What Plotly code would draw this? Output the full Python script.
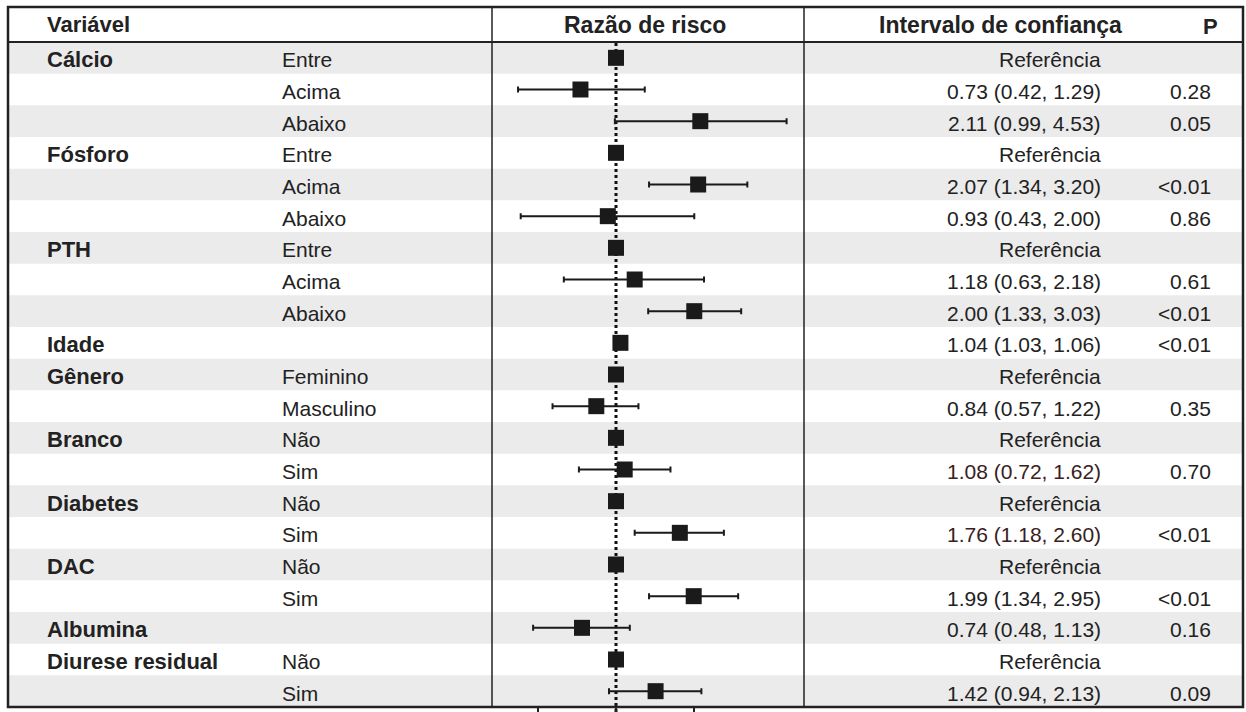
import plotly.graph_objects as go

# ---- data -------------------------------------------------------------
variables = ["Cálcio", "", "", "Fósforo", "", "", "PTH", "", "", "Idade",
             "Gênero", "", "Branco", "", "Diabetes", "", "DAC", "",
             "Albumina", "Diurese residual", ""]
levels = ["Entre", "Acima", "Abaixo", "Entre", "Acima", "Abaixo", "Entre",
          "Acima", "Abaixo", "", "Feminino", "Masculino", "Não", "Sim",
          "Não", "Sim", "Não", "Sim", "", "Não", "Sim"]
hazard_ratio = [1, 0.73, 2.11, 1, 2.07, 0.93, 1, 1.18, 2.00, 1.04, 1, 0.84,
                1, 1.08, 1, 1.76, 1, 1.99, 0.74, 1, 1.42]
ci_lower = [None, 0.42, 0.99, None, 1.34, 0.43, None, 0.63, 1.33, 1.03, None,
            0.57, None, 0.72, None, 1.18, None, 1.34, 0.48, None, 0.94]
ci_upper = [None, 1.29, 4.53, None, 3.20, 2.00, None, 2.18, 3.03, 1.06, None,
            1.22, None, 1.62, None, 2.60, None, 2.95, 1.13, None, 2.13]
p_values = ["", "0.28", "0.05", "", "<0.01", "0.86", "", "0.61", "<0.01",
            "<0.01", "", "0.35", "", "0.70", "", "<0.01", "", "<0.01", "0.16",
            "", "0.09"]
ci_text_colors = ["#222222"] * 13 + ["#3a2020", "#222222", "#3a2020"] + ["#222222"] * 5
headers = ["Variável", "Razão de risco", "Intervalo de confiança", "P"]
x_ticks = [0.5, 1, 2]

# ---- geometry (pixels) -----------------------------------------------
W, H = 1246, 712
FRAME_L, FRAME_R, FRAME_T, FRAME_B = 8, 1243, 7, 707
HEADER_B = 42
PLOT_L, PLOT_R = 492, 804
X_ONE = 616          # pixel of HR = 1
PX_PER_DECADE = 260


def px(x):
    return x / W


def py(y):
    return 1 - y / H


n = len(levels)
rows = list(range(1, n + 1))
TEXT = "#222222"
FONT = "Liberation Sans, Arial, sans-serif"

fig = go.Figure()

err_plus = [0 if u is None else u - h for u, h in zip(ci_upper, hazard_ratio)]
err_minus = [0 if l is None else h - l for l, h in zip(ci_lower, hazard_ratio)]

fig.add_trace(go.Scatter(
    x=hazard_ratio, y=rows, mode="markers",
    marker=dict(symbol="square", size=16, color="#1a1a1a",
                line=dict(width=0)),
    error_x=dict(type="data", symmetric=False, array=err_plus,
                 arrayminus=err_minus, color="#1a1a1a", thickness=2,
                 width=3),
    showlegend=False, hoverinfo="skip",
))

shapes = []
# alternating row bands
for r in rows:
    if r % 2 == 1:
        shapes.append(dict(type="rect", xref="paper", yref="y",
                           x0=px(FRAME_L), x1=px(FRAME_R),
                           y0=r - 0.5, y1=r + 0.5,
                           fillcolor="#ebebeb", line=dict(width=0),
                           layer="below"))
# null-effect dotted line
shapes.append(dict(type="line", xref="x", yref="paper", x0=1, x1=1,
                   y0=0, y1=py(HEADER_B),
                   line=dict(color="#111111", width=3, dash="dot"),
                   layer="below"))
# frame and column separators
shapes.append(dict(type="rect", xref="paper", yref="paper",
                   x0=px(FRAME_L), x1=px(FRAME_R),
                   y0=py(FRAME_B), y1=py(FRAME_T),
                   line=dict(color="#222222", width=2.5)))
shapes.append(dict(type="line", xref="paper", yref="paper",
                   x0=px(FRAME_L), x1=px(FRAME_R),
                   y0=py(HEADER_B), y1=py(HEADER_B),
                   line=dict(color="#222222", width=2)))
for xv in (PLOT_L, PLOT_R):
    shapes.append(dict(type="line", xref="paper", yref="paper",
                       x0=px(xv), x1=px(xv),
                       y0=py(FRAME_B), y1=py(FRAME_T),
                       line=dict(color="#222222", width=1.5)))

annotations = []


def add_text(text, x, y, anchor, size=21, bold=False, yref="y",
             color=TEXT, shift=-2):
    annotations.append(dict(
        text=f"<b>{text}</b>" if bold else text,
        xref="paper", yref=yref, x=px(x), y=y, yshift=shift,
        xanchor=anchor, yanchor="middle", showarrow=False,
        font=dict(family=FONT, size=size, color=color)))


header_y = py((FRAME_T + HEADER_B) / 2)
add_text(headers[0], 45, header_y, "left", size=22, bold=True, yref="paper", shift=0)
add_text(headers[1], 645, header_y, "center", size=23, bold=True, yref="paper", shift=0)
add_text(headers[2], 1000, header_y, "center", size=23, bold=True, yref="paper", shift=0)
add_text(headers[3], 1210, header_y, "center", size=22, bold=True, yref="paper", shift=-2)

for r, var, lev, h, lo, hi, p, col in zip(rows, variables, levels,
                                          hazard_ratio, ci_lower, ci_upper,
                                          p_values, ci_text_colors):
    if var:
        add_text(var, 45, r, "left", size=22, bold=True)
    if lev:
        add_text(lev, 280, r, "left")
    if lo is None:
        ci_text = "Referência"
    else:
        ci_text = f"{h:.2f} ({lo:.2f}, {hi:.2f})"
    add_text(ci_text, 1103, r, "right", color=col)
    if p:
        add_text(p, 1213, r, "right")

x_lo = (PLOT_L - X_ONE) / PX_PER_DECADE
x_hi = (PLOT_R - X_ONE) / PX_PER_DECADE

fig.update_layout(
    width=W, height=H,
    margin=dict(l=0, r=0, t=0, b=0),
    paper_bgcolor="white", plot_bgcolor="white",
    shapes=shapes, annotations=annotations,
    xaxis=dict(type="log", range=[x_lo, x_hi],
               domain=[px(PLOT_L), px(PLOT_R)],
               showgrid=False, zeroline=False, showline=False,
               tickvals=x_ticks, ticks="outside", ticklen=5,
               tickwidth=2, tickcolor="#222222", showticklabels=False),
    yaxis=dict(range=[n + 0.5, 0.5], domain=[py(FRAME_B), py(HEADER_B)],
               showgrid=False, zeroline=False, showline=False,
               showticklabels=False, ticks=""),
)

fig.write_html("out.html")
